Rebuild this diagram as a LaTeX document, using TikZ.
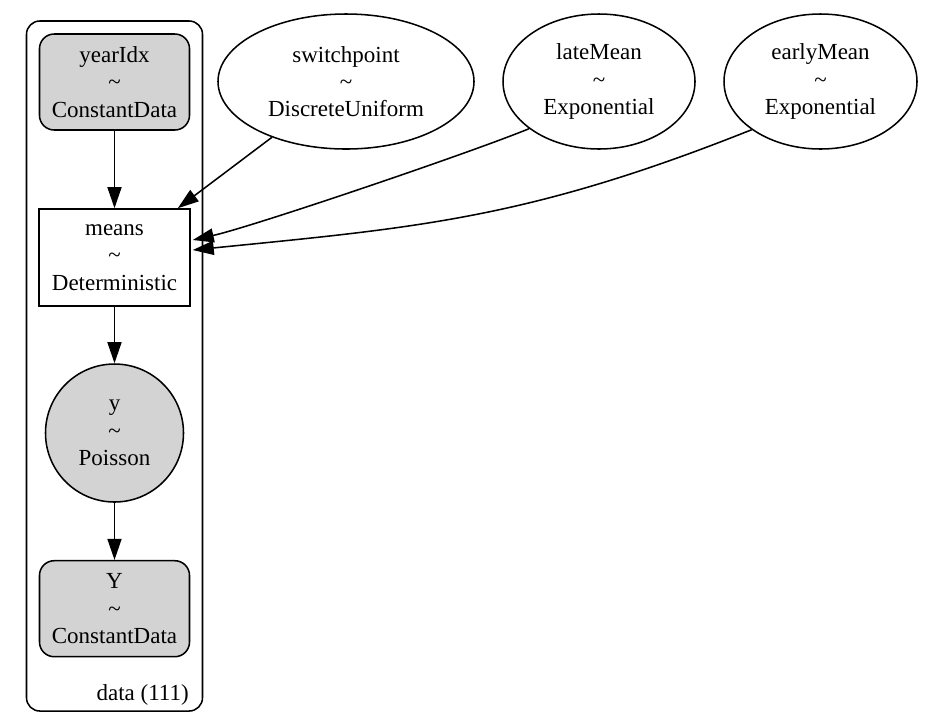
\documentclass[tikz,border=0pt]{standalone}
\usepackage{fontspec}
\setmainfont{Liberation Serif}
\usetikzlibrary{arrows.meta,shapes.geometric,calc}
\definecolor{graphgray}{HTML}{D3D3D3}
\begin{document}
\begin{tikzpicture}[x=0.75pt,y=-0.75pt,
  lbl/.style={font=\fontsize{17.25}{20.5}\selectfont, align=center, inner sep=0pt, line width=1.15pt, draw=black},
  gbox/.style={lbl, rectangle, rounded corners=11pt, fill=graphgray, minimum width=112.5pt, minimum height=72pt},
  detbox/.style={lbl, rectangle, minimum width=113.25pt, minimum height=72.75pt},
  obscircle/.style={lbl, circle, fill=graphgray, minimum size=103.5pt},
  freeell/.style={lbl, ellipse, minimum height=101.25pt},
  platebox/.style={draw=black, line width=1.15pt, rounded corners=10pt, inner sep=0pt},
  edge/.style={line width=1.15pt, -{Triangle[length=15.75pt,width=10.5pt]}}
]
\useasboundingbox (0,0) rectangle (930,719);

\node[platebox, minimum width=132pt, minimum height=517.5pt] (plate) at (114.5,366) {};
\node[font=\fontsize{17.25}{20.5}\selectfont, anchor=base east, inner sep=0pt] (platelabel) at (189,700) {data (111)};

\node[gbox] (yearIdx) at (114.5,82) {yearIdx\\\textasciitilde\\ConstantData};
\node[detbox] (means) at (114.5,257.5) {means\\\textasciitilde\\Deterministic};
\node[obscircle] (y) at (114.5,433) {y\\\textasciitilde\\Poisson};
\node[gbox] (Y) at (114.5,608.7) {Y\\\textasciitilde\\ConstantData};

\node[freeell, minimum width=192pt] (switchpoint) at (346,81.5) {switchpoint\\\textasciitilde\\DiscreteUniform};
\node[freeell, minimum width=144pt] (lateMean) at (599,81.5) {lateMean\\\textasciitilde\\Exponential};
\node[freeell, minimum width=144.75pt] (earlyMean) at (820.5,81.5) {earlyMean\\\textasciitilde\\Exponential};

\coordinate (mtop) at ($(means.north east)+(-13,0)$);
\coordinate (mlate) at ($(means.east)+(2,-17.5)$);
\coordinate (mearly) at ($(means.east)+(2,-7.5)$);

\draw[edge] (yearIdx) -- (means);
\draw[edge] (means) -- (y);
\draw[edge] (y) -- (Y);
\draw[edge] (switchpoint) -- (mtop);
\draw[edge] (lateMean.214.7) .. controls (470,152.9) and (252,226.8) .. (mlate);
\draw[edge] (earlyMean.215.4) .. controls (527,219.3) and (417,227.5) .. (mearly);
\end{tikzpicture}
\end{document}
